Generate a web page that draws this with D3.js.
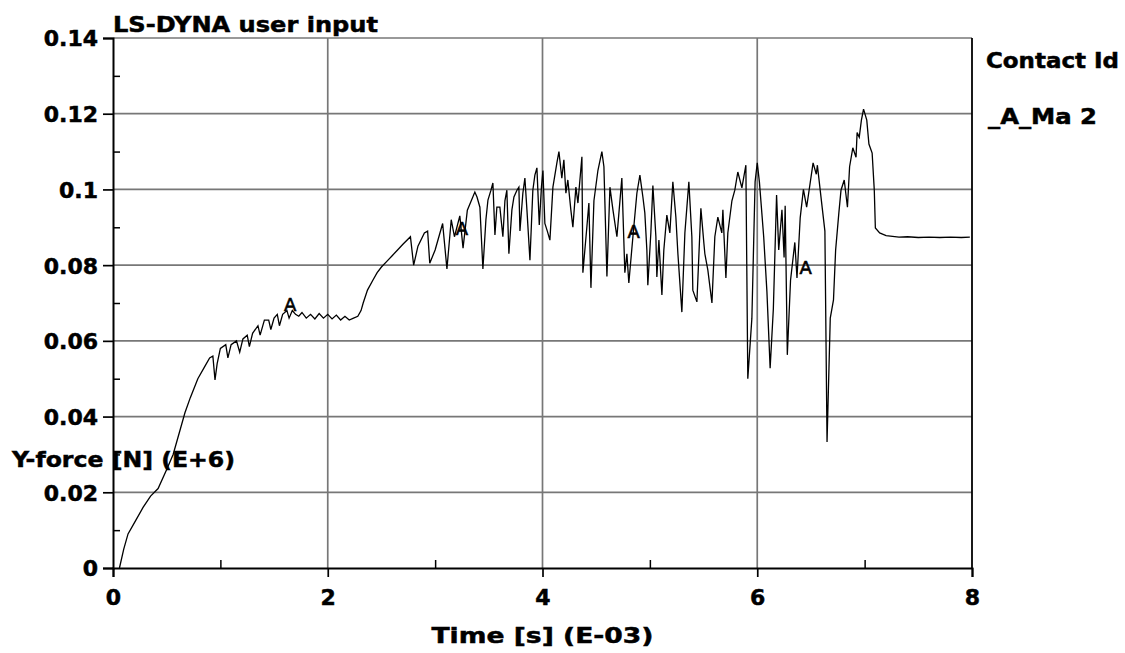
<!DOCTYPE html>
<html>
<head>
<meta charset="utf-8">
<script src="https://cdn.jsdelivr.net/npm/d3@7"></script>
<style>
  body { margin: 0; background: #fff; }
  svg text { font-family: "DejaVu Sans", sans-serif; font-weight: bold; fill: #000; }
  .heavy { stroke: #000; stroke-width: 0.5px; }
</style>
</head>
<body>
<div id="chart"></div>
<script>
// values: [time (E-03 s), Y-force (E+6 N)]
const forceCurve = [
  [0.06, 0.000], [0.10, 0.005], [0.14, 0.009], [0.20, 0.012], [0.28, 0.016],
  [0.35, 0.019], [0.42, 0.021], [0.50, 0.026], [0.56, 0.030], [0.62, 0.036],
  [0.67, 0.041], [0.72, 0.045], [0.79, 0.050], [0.85, 0.053], [0.90, 0.0555],
  [0.93, 0.056], [0.95, 0.0497], [0.97, 0.054], [1.00, 0.058], [1.05, 0.059],
  [1.07, 0.0555], [1.10, 0.059], [1.15, 0.060], [1.18, 0.057], [1.21, 0.0605],
  [1.25, 0.0615], [1.27, 0.0585], [1.30, 0.062], [1.35, 0.064], [1.37, 0.0615],
  [1.41, 0.0655], [1.45, 0.0655], [1.47, 0.063], [1.50, 0.066], [1.53, 0.067],
  [1.55, 0.064], [1.58, 0.067], [1.62, 0.068], [1.64, 0.066], [1.67, 0.068],
  [1.70, 0.067], [1.73, 0.0665], [1.76, 0.0675], [1.80, 0.066], [1.84, 0.067],
  [1.88, 0.0658], [1.92, 0.0672], [1.96, 0.066], [2.00, 0.067], [2.04, 0.0658],
  [2.08, 0.0668], [2.12, 0.0655], [2.16, 0.0665], [2.20, 0.0655], [2.24, 0.066],
  [2.28, 0.0665], [2.31, 0.068], [2.33, 0.070], [2.37, 0.0734], [2.42, 0.076],
  [2.46, 0.078], [2.50, 0.0795], [2.55, 0.081], [2.60, 0.0825], [2.65, 0.084],
  [2.70, 0.0855], [2.77, 0.0875], [2.80, 0.080], [2.84, 0.085], [2.90, 0.0885],
  [2.93, 0.089], [2.95, 0.0805], [3.00, 0.084], [3.07, 0.091], [3.11, 0.079],
  [3.15, 0.092], [3.18, 0.0875], [3.23, 0.093], [3.26, 0.0845], [3.30, 0.0945],
  [3.37, 0.0993], [3.39, 0.098], [3.417, 0.0953], [3.445, 0.079], [3.473, 0.092],
  [3.492, 0.0972], [3.52, 0.0998], [3.538, 0.1017], [3.557, 0.088], [3.575, 0.0953],
  [3.603, 0.0953], [3.631, 0.0875], [3.65, 0.097], [3.668, 0.0998], [3.687, 0.083],
  [3.715, 0.0946], [3.734, 0.098], [3.762, 0.0998], [3.78, 0.1006], [3.79, 0.089],
  [3.817, 0.099], [3.836, 0.103], [3.855, 0.0946], [3.883, 0.0813], [3.91, 0.0998],
  [3.929, 0.1038], [3.948, 0.1057], [3.97, 0.0906], [3.99, 0.1006], [4.004, 0.105],
  [4.022, 0.091], [4.045, 0.089], [4.069, 0.0866], [4.097, 0.1006], [4.134, 0.107],
  [4.153, 0.110], [4.18, 0.103], [4.199, 0.1078], [4.218, 0.099], [4.236, 0.1025],
  [4.264, 0.0946], [4.283, 0.090], [4.311, 0.1006], [4.33, 0.0964], [4.367, 0.1086],
  [4.376, 0.078], [4.413, 0.090], [4.432, 0.0964], [4.451, 0.074], [4.479, 0.097],
  [4.516, 0.105], [4.553, 0.110], [4.572, 0.106], [4.60, 0.077], [4.628, 0.1006],
  [4.656, 0.0946], [4.693, 0.0875], [4.739, 0.103], [4.767, 0.078], [4.786, 0.083],
  [4.804, 0.0753], [4.842, 0.0875], [4.879, 0.099], [4.907, 0.1038], [4.935, 0.098],
  [4.953, 0.0938], [4.972, 0.084], [4.981, 0.0747], [5.009, 0.0885], [5.028, 0.101],
  [5.056, 0.0875], [5.065, 0.0769], [5.084, 0.0866], [5.112, 0.0721], [5.13, 0.084],
  [5.158, 0.0932], [5.186, 0.0885], [5.214, 0.102], [5.242, 0.0927], [5.261, 0.083],
  [5.298, 0.0676], [5.326, 0.0885], [5.363, 0.102], [5.391, 0.0875], [5.40, 0.0734],
  [5.438, 0.0703], [5.475, 0.095], [5.503, 0.0858], [5.512, 0.083], [5.54, 0.0787],
  [5.578, 0.070], [5.605, 0.0875], [5.633, 0.0927], [5.67, 0.0885], [5.68, 0.0946],
  [5.708, 0.0766], [5.726, 0.0885], [5.764, 0.097], [5.791, 0.0998], [5.819, 0.1046],
  [5.857, 0.1004], [5.894, 0.1064], [5.912, 0.050], [5.95, 0.066], [5.98, 0.102],
  [6.00, 0.107], [6.02, 0.102], [6.06, 0.0875], [6.09, 0.073], [6.12, 0.0528],
  [6.15, 0.0685], [6.18, 0.0985], [6.20, 0.084], [6.23, 0.0946], [6.25, 0.082],
  [6.26, 0.0957], [6.28, 0.0563], [6.31, 0.076], [6.35, 0.086], [6.37, 0.0766],
  [6.40, 0.0925], [6.43, 0.100], [6.46, 0.0953], [6.52, 0.107], [6.55, 0.104],
  [6.56, 0.1064], [6.60, 0.0964], [6.63, 0.089], [6.65, 0.0333], [6.68, 0.066],
  [6.71, 0.0708], [6.73, 0.084], [6.76, 0.0938], [6.78, 0.0998], [6.81, 0.1025],
  [6.84, 0.0953], [6.86, 0.106], [6.89, 0.111], [6.92, 0.1085], [6.93, 0.115],
  [6.95, 0.1138], [6.97, 0.1183], [6.99, 0.1212], [7.02, 0.1183], [7.04, 0.112],
  [7.07, 0.1096], [7.09, 0.0998], [7.10, 0.0898], [7.14, 0.0885], [7.20, 0.0878],
  [7.26, 0.0876], [7.32, 0.0874], [7.40, 0.0875], [7.50, 0.0873], [7.60, 0.0874],
  [7.70, 0.0873], [7.80, 0.0874], [7.90, 0.0873], [7.98, 0.0874]
];

// the "A" symbols sitting on the curve
const markerTimes = [1.65, 3.25, 4.85, 6.45];
const markerValues = [0.0695, 0.0898, 0.0888, 0.0795];

const xMajorTicks = [0, 2, 4, 6, 8];
const xTickLabels = ["0", "2", "4", "6", "8"];
const xMinorTicks = [1, 3, 5, 7];
const yMajorTicks = [0, 0.02, 0.04, 0.06, 0.08, 0.1, 0.12, 0.14];
const yTickLabels = ["0", "0.02", "0.04", "0.06", "0.08", "0.1", "0.12", "0.14"];
const yMinorTicks = [0.01, 0.03, 0.05, 0.07, 0.09, 0.11, 0.13];

const titleText = "LS-DYNA user input";
const xLabel = "Time [s] (E-03)";
const yLabel = "Y-force [N] (E+6)";
const legendTitle = "Contact Id";
const legendEntries = ["_A_Ma 2"];

const width = 1125;
const height = 653;
const marginLeft = 113;
const marginRight = 153;
const marginTop = 38;
const marginBottom = 85;

const svg = d3.select("#chart")
  .append("svg")
  .attr("width", width)
  .attr("height", height)
  .attr("viewBox", [0, 0, width, height]);

svg.append("rect").attr("width", width).attr("height", height).attr("fill", "#fff");

const x = d3.scaleLinear([0, 8], [marginLeft, width - marginRight]);
const y = d3.scaleLinear([0, 0.14], [height - marginBottom, marginTop]);

// gridlines
const grid = svg.append("g").attr("stroke", "#777").attr("stroke-width", 1.7);
grid.selectAll(".gy")
  .data(yMajorTicks.slice(1))
  .join("line")
  .attr("x1", x(0)).attr("x2", x(8))
  .attr("y1", (d) => y(d)).attr("y2", (d) => y(d));
grid.selectAll(".gx")
  .data(xMajorTicks.slice(1, -1))
  .join("line")
  .attr("y1", y(0)).attr("y2", y(0.14))
  .attr("x1", (d) => x(d)).attr("x2", (d) => x(d));

// right frame edge
svg.append("line")
  .attr("x1", x(8)).attr("x2", x(8))
  .attr("y1", y(0.14)).attr("y2", y(0))
  .attr("stroke", "#000").attr("stroke-width", 1.8);

// y axis
svg.append("g")
  .attr("transform", `translate(${marginLeft},0)`)
  .call(d3.axisLeft(y).tickValues(yMajorTicks).tickSize(10).tickPadding(5)
    .tickFormat((d, i) => yTickLabels[i]))
  .call((g) => g.select(".domain").attr("stroke-width", 2))
  .call((g) => g.selectAll(".tick line").attr("stroke-width", 1.7))
  .call((g) => g.selectAll("text").attr("font-size", 22).attr("font-family", null)
    .attr("dy", "0.36em").classed("heavy", true));

svg.append("g")
  .attr("transform", `translate(${marginLeft},0)`)
  .call(d3.axisLeft(y).tickValues(yMinorTicks).tickSize(-7).tickFormat(""))
  .call((g) => g.select(".domain").remove())
  .call((g) => g.selectAll(".tick line").attr("stroke-width", 1.5));

// x axis
svg.append("g")
  .attr("transform", `translate(0,${height - marginBottom})`)
  .call(d3.axisBottom(x).tickValues(xMajorTicks).tickSize(9).tickPadding(12)
    .tickFormat((d, i) => xTickLabels[i]))
  .call((g) => g.select(".domain").attr("stroke-width", 2))
  .call((g) => g.selectAll(".tick line").attr("stroke-width", 1.7))
  .call((g) => g.selectAll("text").attr("font-size", 22).attr("font-family", null)
    .classed("heavy", true));

svg.append("g")
  .attr("transform", `translate(0,${height - marginBottom})`)
  .call(d3.axisBottom(x).tickValues(xMinorTicks).tickSize(-8).tickFormat(""))
  .call((g) => g.select(".domain").remove())
  .call((g) => g.selectAll(".tick line").attr("stroke-width", 1.5));

// the force curve
const line = d3.line()
  .x((d) => x(d[0]))
  .y((d) => y(d[1]));

svg.append("path")
  .datum(forceCurve)
  .attr("fill", "none")
  .attr("stroke", "#000")
  .attr("stroke-width", 1.3)
  .attr("d", line);

// "A" symbols on the curve
svg.append("g")
  .selectAll("text")
  .data(markerTimes)
  .join("text")
  .attr("x", (d) => x(d))
  .attr("y", (d, i) => y(markerValues[i]))
  .attr("dy", "0.36em")
  .attr("text-anchor", "middle")
  .attr("font-size", 18)
  .style("font-weight", "normal")
  .attr("stroke", "#000")
  .attr("stroke-width", 0.6)
  .text("A");

// title, axis labels (stretched to the widths of the original bitmap font)
svg.append("text")
  .attr("class", "heavy")
  .attr("x", marginLeft)
  .attr("y", 32)
  .attr("font-size", 22)
  .attr("textLength", 265)
  .attr("lengthAdjust", "spacingAndGlyphs")
  .text(titleText);

svg.append("text")
  .attr("class", "heavy")
  .attr("x", 12)
  .attr("y", 467)
  .attr("font-size", 22)
  .attr("textLength", 223)
  .attr("lengthAdjust", "spacingAndGlyphs")
  .text(yLabel);

svg.append("text")
  .attr("class", "heavy")
  .attr("x", x(4) - 111)
  .attr("y", 643)
  .attr("font-size", 22)
  .attr("textLength", 222)
  .attr("lengthAdjust", "spacingAndGlyphs")
  .text(xLabel);

// legend
svg.append("text")
  .attr("class", "heavy")
  .attr("x", 986)
  .attr("y", 68)
  .attr("font-size", 21)
  .attr("textLength", 133)
  .attr("lengthAdjust", "spacingAndGlyphs")
  .text(legendTitle);

svg.append("g")
  .selectAll("text")
  .data(legendEntries)
  .join("text")
  .attr("class", "heavy")
  .attr("x", 988)
  .attr("y", (d, i) => 124 + i * 40)
  .attr("font-size", 21)
  .attr("textLength", 109)
  .attr("lengthAdjust", "spacingAndGlyphs")
  .text((d) => d);
</script>
</body>
</html>
